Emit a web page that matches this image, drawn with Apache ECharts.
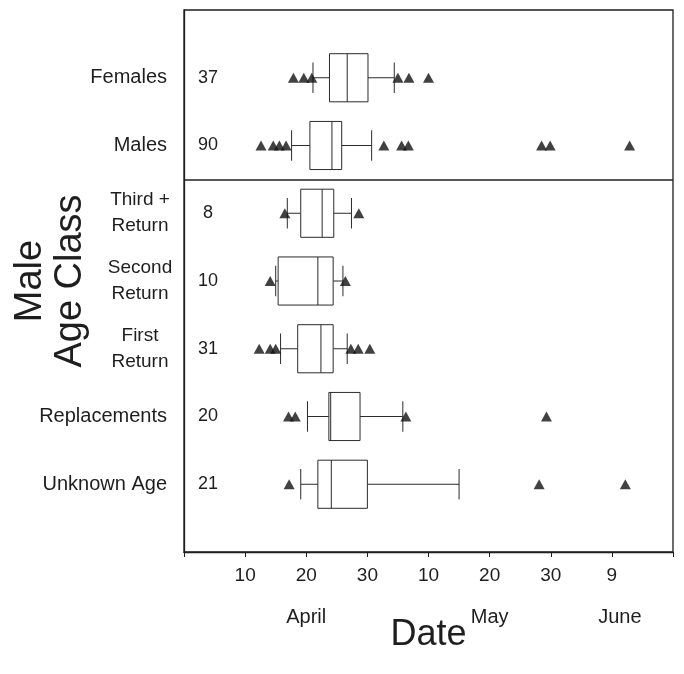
<!DOCTYPE html>
<html>
<head>
<meta charset="utf-8">
<script src="https://cdn.jsdelivr.net/npm/echarts@6/dist/echarts.min.js"></script>
<style>
  html, body { margin: 0; padding: 0; background: #fff; }
  #chart { width: 684px; height: 674px; }
</style>
</head>
<body>
<div id="chart"></div>
<script>
// Arrival dates, counted as days from 1 April (1 May = day 31, 9 June = day 70)
const categories = ['Females', 'Males', 'Third +\nReturn', 'Second\nReturn', 'First\nReturn', 'Replacements', 'Unknown Age'];
const sampleSizes = [37, 90, 8, 10, 31, 20, 21];

const whiskerLow  = [21.1, 17.6, 16.9, 15.0, 15.8, 20.2, 19.1];
const quartile1   = [23.8, 20.6, 19.1, 15.4, 18.6, 23.7, 21.9];
const median      = [26.7, 24.2, 22.6, 21.9, 22.4, 24.0, 24.1];
const quartile3   = [30.1, 25.8, 24.5, 24.4, 24.4, 28.8, 30.0];
const whiskerHigh = [34.4, 30.7, 27.4, 26.0, 26.7, 35.8, 45.0];

const outliers = [
  [17.9, 19.6, 20.9, 35.0, 36.8, 40.0],
  [12.6, 14.6, 15.6, 16.7, 32.7, 35.6, 36.7, 58.5, 59.9, 72.9],
  [16.5, 28.6],
  [14.1, 26.4],
  [12.3, 14.1, 15.0, 27.3, 28.5, 30.4],
  [17.1, 18.2, 36.3, 59.3],
  [17.2, 58.1, 72.2]
];

// Date axis: tick values and the day-of-month shown under each
const tickValues = [10, 20, 30, 40, 50, 60, 70];
const tickLabels = ['10', '20', '30', '10', '20', '30', '9'];
const monthTicks = [20, 50, 70];
const monthNames = ['April', 'May', 'June'];

// Line separating the sex groups from the male age classes
const groupBoundary = 2.5;

const FONT = "'Liberation Sans', Arial, Helvetica, sans-serif";
const INK = '#1e1e1e';

// Each category sits on an integer slot (1..7) of the vertical value axis
const slot = i => i + 1;

const boxData = categories.map((c, i) => [slot(i), whiskerLow[i], quartile1[i], median[i], quartile3[i], whiskerHigh[i]]);
const outlierData = [];
outliers.forEach((list, i) => list.forEach(v => outlierData.push([v, slot(i)])));

const chart = echarts.init(document.getElementById('chart'), null, { renderer: 'canvas' });

chart.setOption({
  animation: false,
  backgroundColor: '#fff',
  grid: {
    left: 184, right: 11, top: 10, bottom: 122,
    containLabel: false,
    outerBoundsMode: 'none',
    show: true, borderColor: INK, borderWidth: 1.3, backgroundColor: 'transparent'
  },
  xAxis: {
    type: 'value',
    min: 0, max: 80, interval: 10,
    name: 'Date',
    nameLocation: 'middle',
    nameGap: 65,
    nameMoveOverlap: false,
    nameTextStyle: { fontFamily: FONT, fontSize: 36, color: INK },
    axisLine: { show: true, onZero: false, lineStyle: { color: INK, width: 1.3 } },
    axisTick: { show: true, length: 5, lineStyle: { color: INK, width: 1 } },
    splitLine: { show: false },
    axisLabel: {
      margin: 12,
      fontFamily: FONT, fontSize: 19, color: INK, lineHeight: 24,
      formatter: v => {
        const k = tickValues.indexOf(v);
        if (k < 0) return '';
        const m = monthTicks.indexOf(v);
        if (m < 0) return tickLabels[k];
        const style = m === monthTicks.length - 1 ? 'mr' : 'm';
        return tickLabels[k] + '\n{' + style + '|' + monthNames[m] + '}';
      },
      rich: {
        m: { fontFamily: FONT, fontSize: 20, color: INK, lineHeight: 58 },
        mr: { fontFamily: FONT, fontSize: 20, color: INK, lineHeight: 58, padding: [0, 0, 0, 16] }
      }
    }
  },
  yAxis: [
    {
      type: 'value',
      inverse: true,
      min: 0, max: 8, interval: 1,
      name: 'Male\nAge Class',
      nameLocation: 'middle',
      nameGap: 93,
      nameMoveOverlap: false,
      nameTextStyle: { fontFamily: FONT, fontSize: 38, color: INK, lineHeight: 40, align: 'center' },
      axisLine: { show: true, onZero: false, lineStyle: { color: INK, width: 1.3 } },
      axisTick: { show: false },
      splitLine: { show: false },
      axisLabel: {
        margin: 17,
        fontFamily: FONT, fontSize: 20, color: INK, lineHeight: 26,
        formatter: v => {
          const name = categories[v - 1];
          if (!name) return '';
          if (name.indexOf('\n') < 0) return name;
          return name.split('\n').map(s => '{c|' + s + '}').join('\n');
        },
        rich: { c: { fontFamily: FONT, fontSize: 19, color: INK, lineHeight: 26, width: 54, align: 'center' } }
      }
    },
    {
      type: 'value',
      position: 'left',
      inverse: true,
      min: 0, max: 8, interval: 1,
      axisLine: { show: false, onZero: false },
      axisTick: { show: false },
      splitLine: { show: false },
      axisLabel: {
        inside: true,
        margin: 24,
        align: 'center',
        fontFamily: FONT, fontSize: 18, color: INK,
        formatter: v => {
          const n = sampleSizes[v - 1];
          return n === undefined ? '' : String(n);
        }
      }
    }
  ],
  series: [
    {
      type: 'custom',
      name: 'boxes',
      xAxisIndex: 0, yAxisIndex: 0,
      data: boxData,
      encode: { x: [1, 2, 3, 4, 5], y: 0 },
      z: 2,
      renderItem: (params, api) => {
        const y = api.value(0);
        const lo = api.coord([api.value(1), y]);
        const b1 = api.coord([api.value(2), y]);
        const md = api.coord([api.value(3), y]);
        const b3 = api.coord([api.value(4), y]);
        const hi = api.coord([api.value(5), y]);
        const band = api.size([0, 1])[1];
        const hb = band * 0.355;
        const hc = band * 0.225;
        const cy = lo[1];
        const st = { stroke: '#2b2b2b', lineWidth: 1, fill: null };
        return {
          type: 'group',
          children: [
            { type: 'line', shape: { x1: lo[0], y1: cy, x2: b1[0], y2: cy }, style: st },
            { type: 'line', shape: { x1: b3[0], y1: cy, x2: hi[0], y2: cy }, style: st },
            { type: 'line', shape: { x1: lo[0], y1: cy - hc, x2: lo[0], y2: cy + hc }, style: st },
            { type: 'line', shape: { x1: hi[0], y1: cy - hc, x2: hi[0], y2: cy + hc }, style: st },
            { type: 'rect', shape: { x: b1[0], y: cy - hb, width: b3[0] - b1[0], height: 2 * hb }, style: { stroke: '#2b2b2b', lineWidth: 1, fill: '#fff' } },
            { type: 'line', shape: { x1: md[0], y1: cy - hb, x2: md[0], y2: cy + hb }, style: st }
          ]
        };
      },
      markLine: {
        silent: true,
        symbol: 'none',
        label: { show: false },
        lineStyle: { color: INK, width: 1.6, type: 'solid' },
        data: [{ yAxis: groupBoundary }]
      }
    },
    {
      type: 'scatter',
      name: 'outliers',
      xAxisIndex: 0, yAxisIndex: 0,
      data: outlierData,
      symbol: 'triangle',
      symbolSize: [11, 10],
      itemStyle: { color: '#111' },
      z: 3
    }
  ]
});
</script>
</body>
</html>
